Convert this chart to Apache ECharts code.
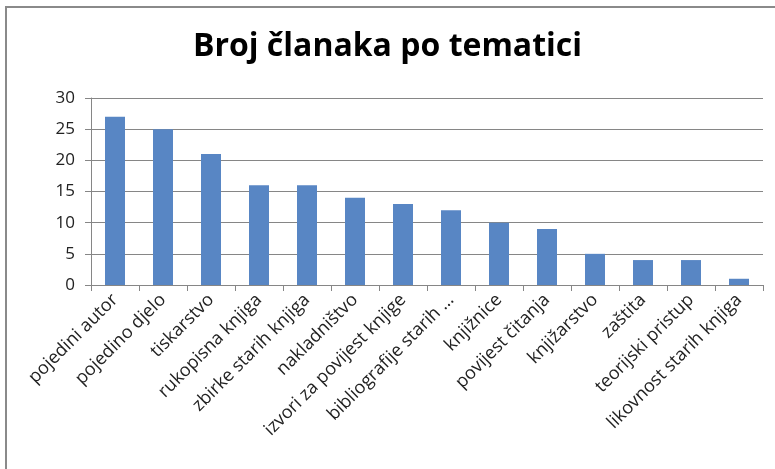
<!DOCTYPE html>
<html>
<head>
<meta charset="utf-8">
<script src="https://cdn.jsdelivr.net/npm/echarts@6/dist/echarts.min.js"></script>
<style>
  html, body { margin: 0; padding: 0; background: #fff; }
  #chart { width: 775px; height: 469px; }
</style>
</head>
<body>
<div id="chart"></div>
<script>
// podaci s grafa
const categories = [
  "pojedini autor", "pojedino djelo", "tiskarstvo", "rukopisna knjiga",
  "zbirke starih knjiga", "nakladništvo", "izvori za povijest knjige",
  "bibliografije starih …", "knjižnice", "povijest čitanja", "knjižarstvo",
  "zaštita", "teorijski pristup", "likovnost starih knjiga"
];
const counts = [27, 25, 21, 16, 16, 14, 13, 12, 10, 9, 5, 4, 4, 1];
const yTicks = { min: 0, max: 30, interval: 5 };

const chart = echarts.init(document.getElementById("chart"));
const font = "Open Sans";

const option = {
  animation: false,
  backgroundColor: "#fff",
  title: {
    text: "Broj članaka po tematici",
    left: "center",
    top: 26,
    textStyle: { fontFamily: font, fontSize: 32, fontWeight: "bold", color: "#000" }
  },
  graphic: [
    {
      type: "rect",
      shape: { x: 6, y: 7, width: 800, height: 500 },
      style: { fill: "none", stroke: "#8a8a8a", lineWidth: 2 },
      silent: true
    }
  ],
  grid: { left: 91, right: 12, top: 98, bottom: 184 },
  xAxis: {
    type: "category",
    data: categories,
    axisLine: { lineStyle: { color: "#868686" } },
    axisTick: { show: true, length: 6, lineStyle: { color: "#868686" } },
    axisLabel: {
      rotate: 45,
      interval: 0,
      margin: 12,
      fontFamily: font,
      fontSize: 18,
      color: "#222"
    }
  },
  yAxis: {
    type: "value",
    min: yTicks.min,
    max: yTicks.max,
    interval: yTicks.interval,
    axisLine: { show: true, lineStyle: { color: "#868686" } },
    axisTick: { show: true, length: 6, lineStyle: { color: "#868686" } },
    axisLabel: { fontFamily: font, fontSize: 17, color: "#222", margin: 16 },
    splitLine: { lineStyle: { color: "#868686" } }
  },
  series: [
    {
      type: "bar",
      data: counts,
      barWidth: 20,
      itemStyle: { color: "#5886c4" }
    }
  ]
};

chart.setOption(option);
</script>
</body>
</html>
